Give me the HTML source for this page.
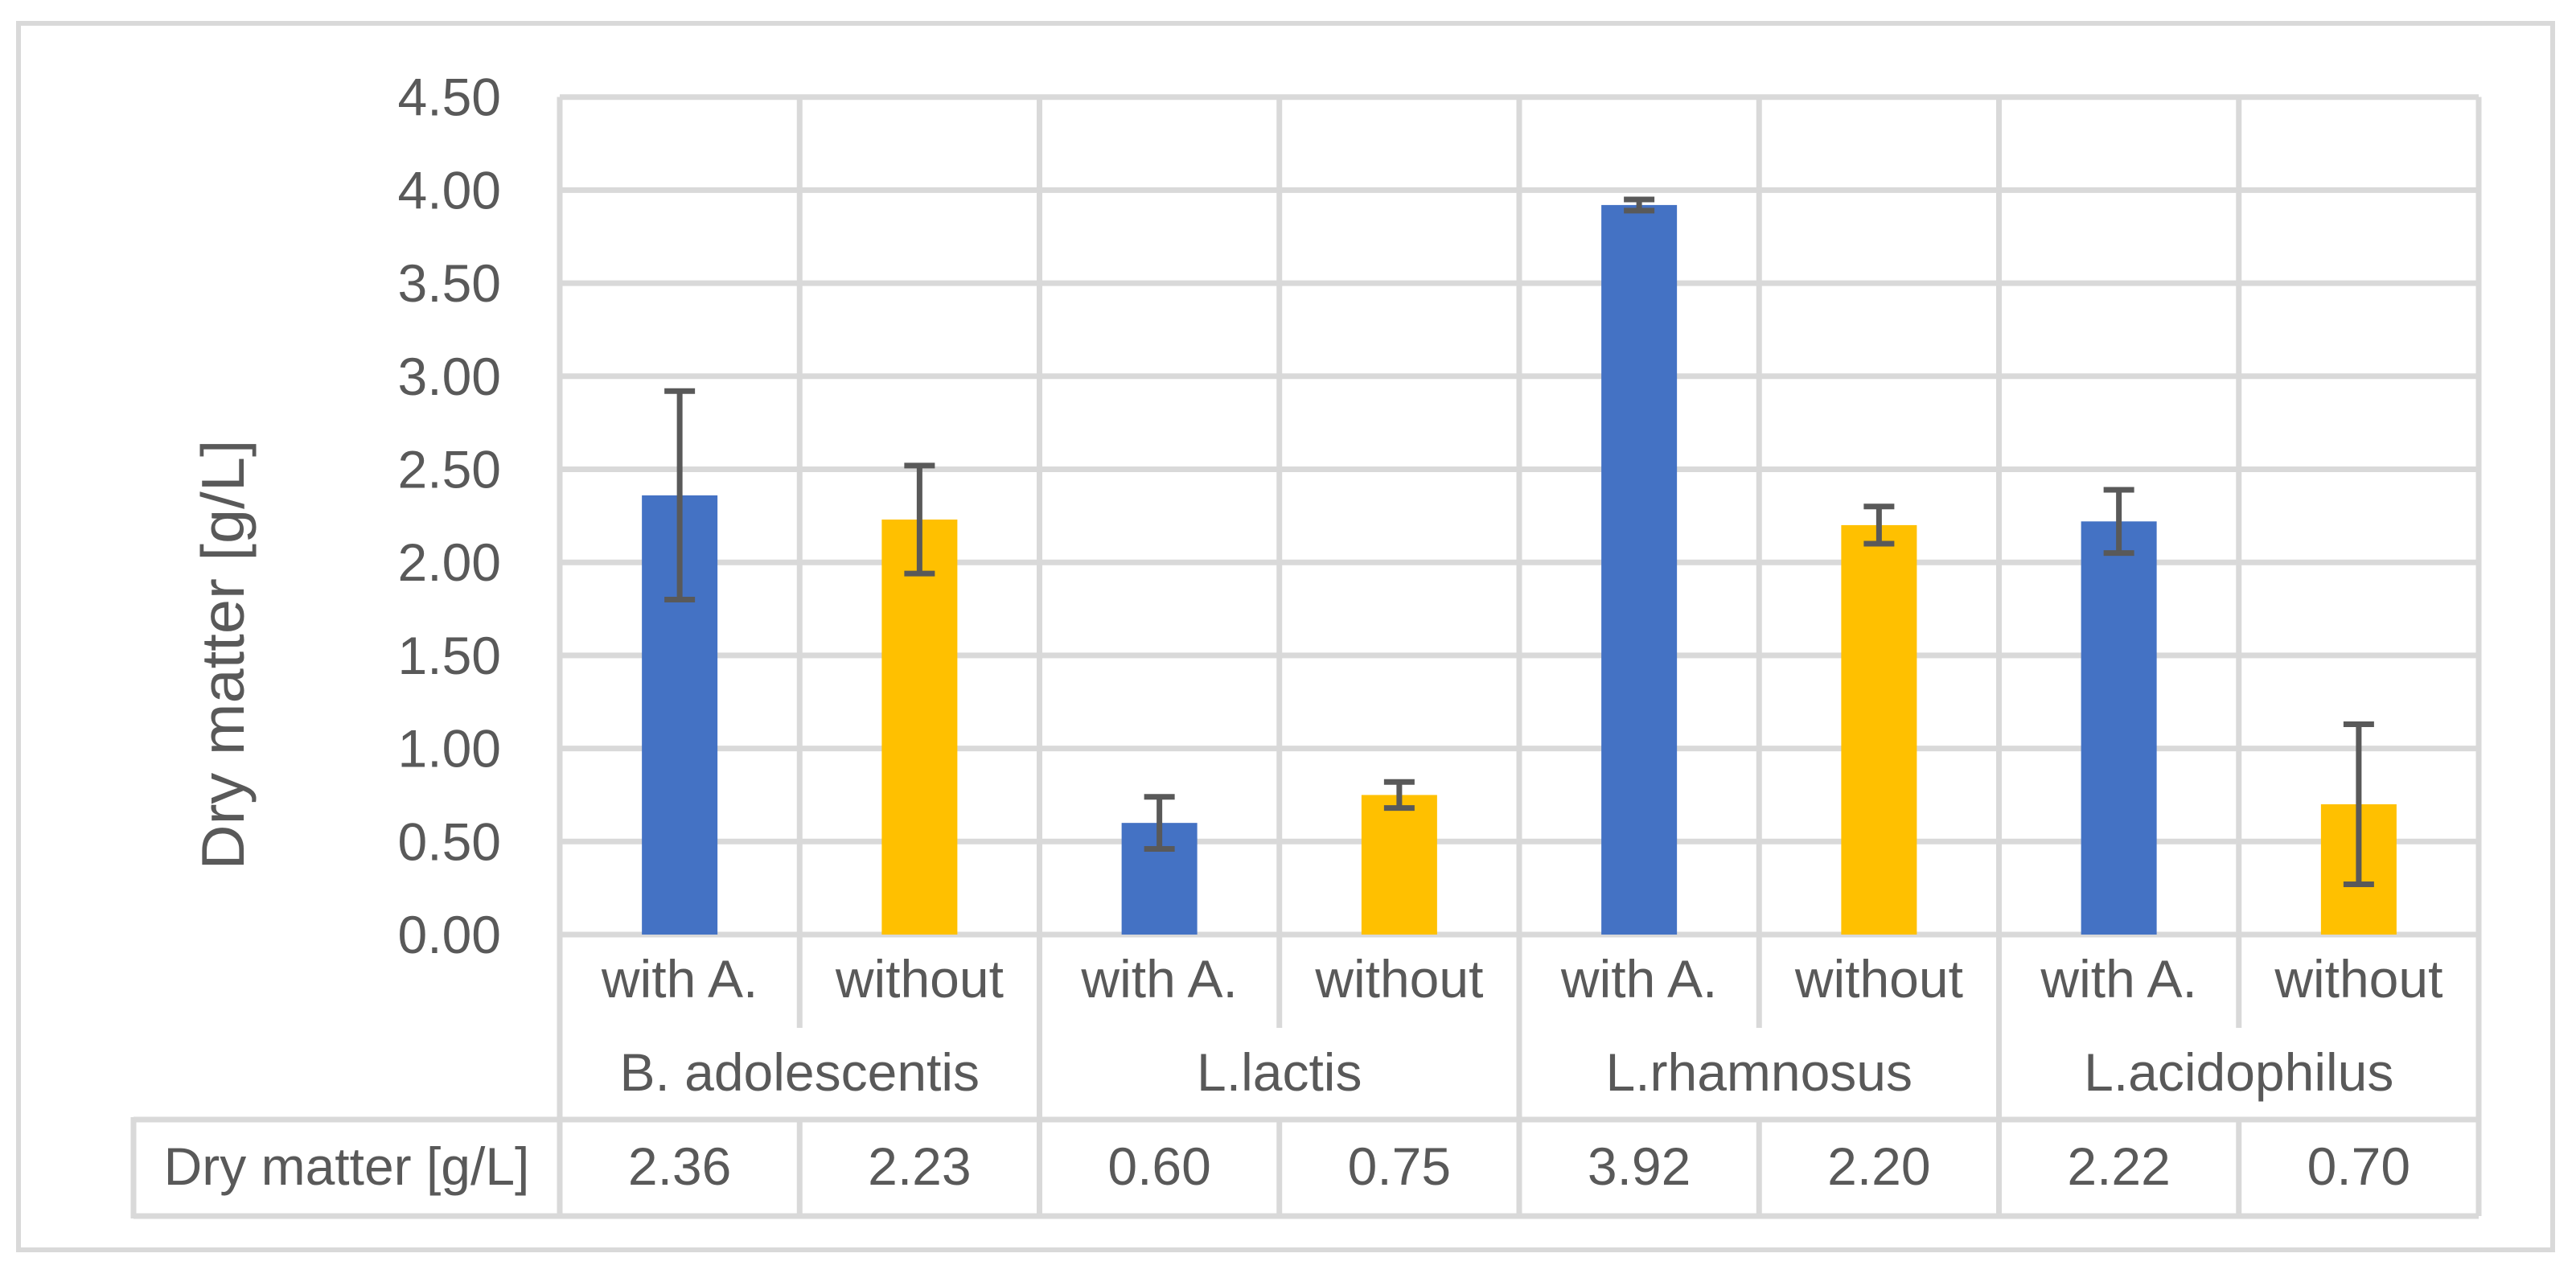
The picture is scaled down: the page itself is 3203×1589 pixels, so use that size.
<!DOCTYPE html>
<html><head><meta charset="utf-8"><style>
html,body{margin:0;padding:0;background:#fff;}
svg{display:block;}
text{font-family:"Liberation Sans",sans-serif;fill:#595959;}
</style></head><body>
<svg id="chart" width="3203" height="1589" viewBox="0 0 3203 1589" xmlns="http://www.w3.org/2000/svg">
<rect x="23" y="29" width="3151" height="1525" fill="#fff" stroke="#D9D9D9" stroke-width="6"/>
<g id="grid"></g><g id="bars"></g><g id="labels"></g>
<text transform="translate(303,814) rotate(-90)" text-anchor="middle" font-size="75" textLength="535" lengthAdjust="spacingAndGlyphs">Dry matter [g/L]</text>
</svg>
<script>
const groups = ["B. adolescentis","L.lactis","L.rhamnosus","L.acidophilus"];
const subcats = ["with A.","without","with A.","without","with A.","without","with A.","without"];
const values = [2.36,2.23,0.60,0.75,3.92,2.20,2.22,0.70];
const errors = [0.56,0.29,0.14,0.07,0.03,0.10,0.17,0.43];
const valueLabels = ["2.36","2.23","0.60","0.75","3.92","2.20","2.22","0.70"];
const yTicks = [0,0.5,1,1.5,2,2.5,3,3.5,4,4.5];

const NS="http://www.w3.org/2000/svg";
const L=696, W=298.25, Y0=1162, PER=231.4, TOP=120.5;
const yS=v=>Y0-v*PER;
const xS=i=>L+i*W;
const R=xS(subcats.length);
const grid=document.getElementById('grid'),bars=document.getElementById('bars'),lab=document.getElementById('labels');
function mk(tag,attrs,parent){const e=document.createElementNS(NS,tag);for(const k in attrs)e.setAttribute(k,attrs[k]);parent.appendChild(e);return e;}
const G="#D9D9D9",SW=7;
yTicks.forEach(t=>{
  const l=mk('line',{x1:L,x2:R,y1:yS(t),y2:yS(t),stroke:G,'stroke-width':SW},grid);
  
  
  const tx=mk('text',{x:623,y:yS(t)+23,'text-anchor':'end','font-size':66},lab);
  tx.textContent=t.toFixed(2);
  
  
});
for(let i=0;i<=subcats.length;i++){
  const isGroup=i%2===0;
  const l=mk('line',{x1:xS(i),x2:xS(i),y1:TOP,y2:isGroup?1392:1278,stroke:G,'stroke-width':SW},grid);
  
  
  const t=mk('line',{x1:xS(i),x2:xS(i),y1:1392,y2:1512,stroke:G,'stroke-width':SW},grid);
  
  
}
[[166,1392],[166,1512]].forEach(p=>{
  const l=mk('line',{x1:p[0],x2:R,y1:p[1],y2:p[1],stroke:G,'stroke-width':SW},grid);
  
  
});
const tl=mk('line',{x1:166,x2:166,y1:1389,y2:1515,stroke:G,'stroke-width':SW},grid);


const BW=94;
values.forEach((v,i)=>{
  const cx=xS(i)+W/2;
  const b=mk('rect',{x:cx-BW/2,y:yS(v),width:BW,height:Y0-yS(v),fill:i%2?"#FFC000":"#4472C4"},bars);
  
  
  const e=errors[i],g=mk('g',{stroke:'#595959','stroke-width':7},bars);
  
  
  mk('line',{x1:cx,x2:cx,y1:yS(v+e),y2:yS(v-e)},g);
  mk('line',{x1:cx-19,x2:cx+19,y1:yS(v+e),y2:yS(v+e)},g);
  mk('line',{x1:cx-19,x2:cx+19,y1:yS(v-e),y2:yS(v-e)},g);
  const s=mk('text',{x:cx,y:1240,'text-anchor':'middle','font-size':66},lab);
  s.textContent=subcats[i];
  
  
  const tv=mk('text',{x:cx,y:1473,'text-anchor':'middle','font-size':66},lab);
  tv.textContent=valueLabels[i];
  
  
});
groups.forEach((gname,j)=>{
  const t=mk('text',{x:xS(j*2)+W,y:1356,'text-anchor':'middle','font-size':66},lab);
  t.textContent=gname;
  
  
});
const th=mk('text',{x:431,y:1473,'text-anchor':'middle','font-size':66},lab);
th.textContent="Dry matter [g/L]";


</script>
</body></html>
